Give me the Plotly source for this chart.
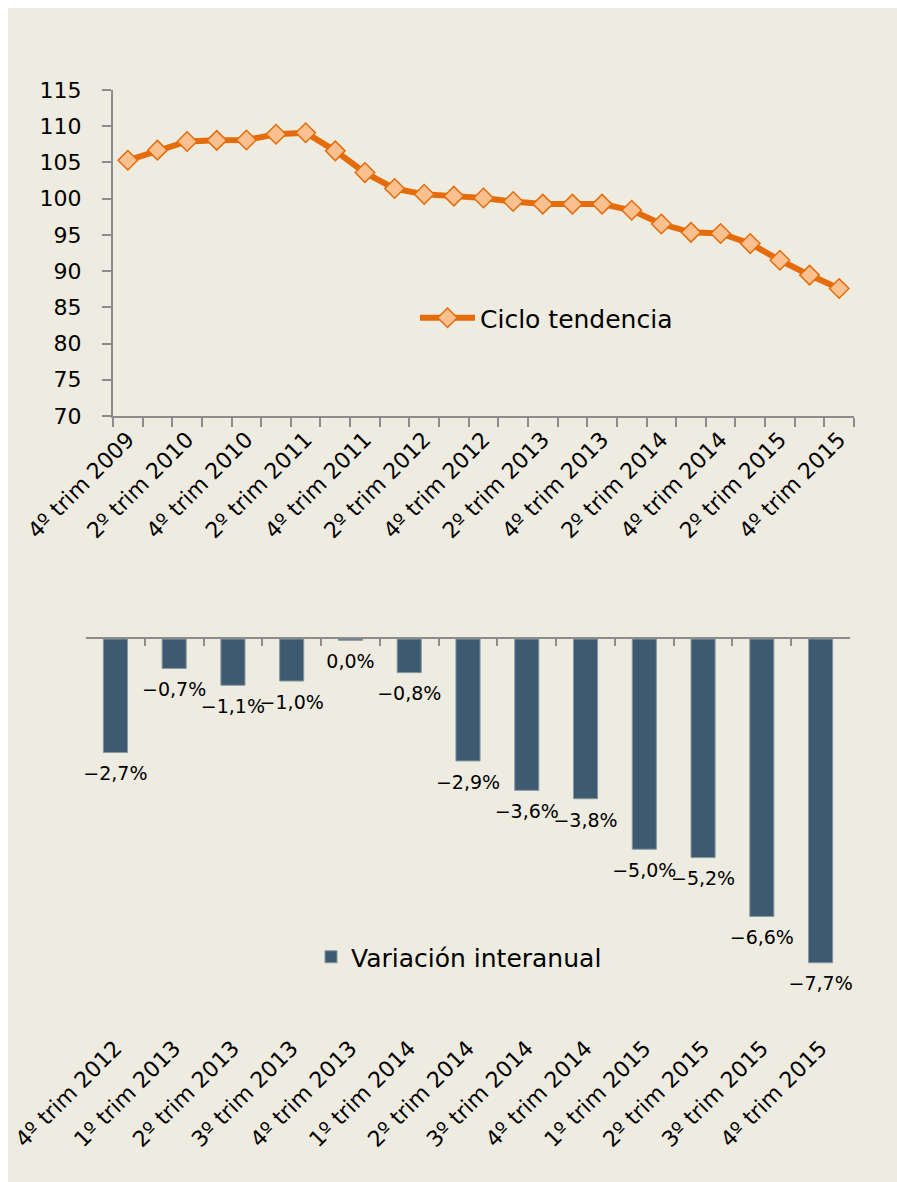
import plotly.graph_objects as go

# ---------------- data ----------------
quarters = [
    "4º trim 2009", "1º trim 2010", "2º trim 2010", "3º trim 2010", "4º trim 2010",
    "1º trim 2011", "2º trim 2011", "3º trim 2011", "4º trim 2011",
    "1º trim 2012", "2º trim 2012", "3º trim 2012", "4º trim 2012",
    "1º trim 2013", "2º trim 2013", "3º trim 2013", "4º trim 2013",
    "1º trim 2014", "2º trim 2014", "3º trim 2014", "4º trim 2014",
    "1º trim 2015", "2º trim 2015", "3º trim 2015", "4º trim 2015",
]
ciclo_tendencia = [
    105.3, 106.7, 107.9, 108.05, 108.1,
    108.9, 109.1, 106.6, 103.6,
    101.4, 100.6, 100.35, 100.1,
    99.6, 99.25, 99.25, 99.25,
    98.4, 96.5, 95.35, 95.2,
    93.8, 91.5, 89.45, 87.6,
]

bar_quarters = [
    "4º trim 2012", "1º trim 2013", "2º trim 2013", "3º trim 2013", "4º trim 2013",
    "1º trim 2014", "2º trim 2014", "3º trim 2014", "4º trim 2014",
    "1º trim 2015", "2º trim 2015", "3º trim 2015", "4º trim 2015",
]
variacion_interanual = [-2.7, -0.7, -1.1, -1.0, -0.03, -0.8, -2.9, -3.6, -3.8, -5.0, -5.2, -6.6, -7.7]


def fmt(v):
    s = f"{abs(v):.1f}".replace(".", ",")
    if round(v, 1) < 0:
        s = "\u2212" + s
    return s + "%"


bar_text = [fmt(v) for v in variacion_interanual]

# ---------------- style ----------------
BG = "#EEEBE1"
AX = "#8C8C8C"
OFF = 8               # body margin (top / left) of the page
W, H = 897 - OFF, 1182 - OFF
FONT = "DejaVu Sans"


def fx(px):
    return (px - OFF) / W


def fy(py):
    return 1 - (py - OFF) / H


fig = go.Figure()

fig.add_trace(go.Scatter(
    x=quarters, y=ciclo_tendencia, mode="lines+markers", name="Ciclo tendencia",
    line=dict(color="#E46C0A", width=6),
    marker=dict(symbol="diamond", size=15, color="#FAC090",
                line=dict(color="#E46C0A", width=1.5)),
    xaxis="x", yaxis="y", legend="legend", cliponaxis=False,
))

fig.add_trace(go.Bar(
    x=bar_quarters, y=variacion_interanual, name="Variación interanual",
    marker=dict(color="#3E5A70", line=dict(color="#8797A3", width=1)),
    xaxis="x2", yaxis="y2", legend="legend2", hoverinfo="x+y",
))

# value labels under the bars (also gives the zero-line axis its categories)
fig.add_trace(go.Scatter(
    x=bar_quarters, y=variacion_interanual, mode="markers+text",
    text=bar_text, textposition="bottom center",
    textfont=dict(size=19, color="#000000", family=FONT),
    marker=dict(size=20, color="rgba(0,0,0,0)"),
    showlegend=False, hoverinfo="skip", cliponaxis=False,
    xaxis="x3", yaxis="y2",
))

n_top = len(quarters)
n_bot = len(bar_quarters)

fig.update_layout(
    width=W, height=H,
    margin=dict(l=0, r=0, t=0, b=0),
    paper_bgcolor=BG, plot_bgcolor=BG,
    font=dict(family=FONT, color="#000000"),
    bargap=0.59,
    xaxis=dict(
        domain=[fx(113), fx(854)], anchor="y", type="category",
        range=[-0.5, n_top - 0.5],
        tickson="boundaries", ticks="outside", ticklen=9, tickwidth=2, tickcolor=AX,
        showline=True, linecolor=AX, linewidth=2, showgrid=False,
        tickangle=-45, ticklabelstep=2, tickfont=dict(size=22),
        automargin=False,
    ),
    yaxis=dict(
        domain=[fy(416), fy(90)], anchor="x",
        range=[70, 115], dtick=5, tick0=70,
        ticks="outside", ticklen=9, tickwidth=2, tickcolor=AX,
        showline=True, linecolor=AX, linewidth=2, showgrid=False, zeroline=False,
        tickfont=dict(size=22), ticklabelstandoff=16, automargin=False,
    ),
    xaxis2=dict(
        domain=[fx(86), fx(850)], anchor="y2", type="category",
        range=[-0.5, n_bot - 0.5],
        showline=False, ticks="", showgrid=False,
        tickangle=-45, tickfont=dict(size=22), automargin=False,
    ),
    xaxis3=dict(
        overlaying="x2", anchor="y2", side="top", type="category",
        range=[-0.5, n_bot - 0.5],
        showline=True, linecolor=AX, linewidth=2,
        ticks="inside", ticklen=7, tickwidth=2, tickcolor=AX, tickson="boundaries",
        showticklabels=False, showgrid=False, automargin=False,
    ),
    yaxis2=dict(
        domain=[fy(1030), fy(639)], anchor="x2",
        range=[-9.3, 0], visible=False, showgrid=False, zeroline=False,
    ),
    legend=dict(
        x=fx(415), y=fy(318), xanchor="left", yanchor="middle",
        bgcolor="rgba(0,0,0,0)", font=dict(size=25), itemwidth=55,
    ),
    legend2=dict(
        x=fx(311), y=fy(957), xanchor="left", yanchor="middle",
        bgcolor="rgba(0,0,0,0)", font=dict(size=25),
    ),
)

fig.write_html(
    "out.html",
    post_script="document.body.style.margin='8px 0 0 8px';document.body.style.overflow='hidden';",
)
